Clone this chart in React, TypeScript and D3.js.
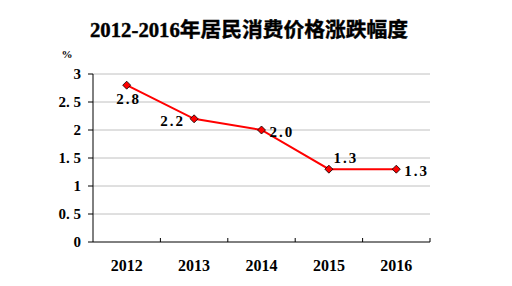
import React from "react";
import * as d3 from "d3";

const title = "2012-2016年居民消费价格涨跌幅度";
const years = ["2012", "2013", "2014", "2015", "2016"];
const values = [2.8, 2.2, 2.0, 1.3, 1.3];
const yTicks = [0, 0.5, 1, 1.5, 2, 2.5, 3];
const labelText = ["2.8", "2.2", "2.0", "1.3", "1.3"];
// label placement relative to point: dx, dy
const labelPos: [number, number, string][] = [
  [2, 19, "middle"],
  [-9, 7, "end"],
  [8, 7, "start"],
  [17, -6, "middle"],
  [8, 7, "start"],
];

export default function App() {
  const W = 512, H = 286;
  const left = 93, right = 430, top = 74, bottom = 242;
  const x = d3.scaleBand<string>().domain(years).range([left, right]);
  const y = d3.scaleLinear().domain([0, 3]).range([bottom, top]);
  const line = d3
    .line<number>()
    .x((_, i) => (x(years[i]) as number) + x.bandwidth() / 2)
    .y((d) => y(d));
  const serif = "'Liberation Serif', 'DejaVu Serif', serif";
  const boundaries = years.map((yr) => (x(yr) as number) + x.bandwidth());
  return (
    <svg width={W} height={H} style={{ position: "absolute", left: 0, top: 0, background: "#fff" }}>
      <text
        x={249}
        y={37}
        textAnchor="middle"
        fontFamily="'Liberation Serif', 'Noto Sans CJK SC', serif"
        fontWeight="bold"
        fontSize={20}
        textLength={318}
        lengthAdjust="spacingAndGlyphs"
        stroke="#000"
        strokeWidth={0.4}
      >
        {title}
      </text>
      <text x={67} y={58} textAnchor="middle" fontFamily={serif} fontWeight="bold" fontSize={11}>
        %
      </text>
      {yTicks.map((t) =>
        t === 0 ? null : (
          <line key={"g" + t} x1={left} x2={right} y1={y(t)} y2={y(t)} stroke="#c0c0c0" strokeWidth={1} />
        )
      )}
      {yTicks.map((t) => (
        <g key={"t" + t}>
          <line x1={left - 5} x2={left} y1={y(t)} y2={y(t)} stroke="#000" />
          <text
            x={81}
            y={y(t) + 5}
            textAnchor="end"
            fontFamily={serif}
            fontWeight="bold"
            fontSize={15}
          >
            {String(t).replace(".", ". ")}
          </text>
        </g>
      ))}
      <line x1={left} x2={left} y1={top} y2={bottom} stroke="#000" />
      <line x1={left} x2={right} y1={bottom} y2={bottom} stroke="#000" />
      {boundaries.map((b, i) => (
        <line key={"b" + i} x1={b} x2={b} y1={bottom} y2={bottom - 4} stroke="#000" />
      ))}
      {years.map((yr) => (
        <text
          key={yr}
          x={(x(yr) as number) + x.bandwidth() / 2}
          y={271}
          textAnchor="middle"
          fontFamily={serif}
          fontWeight="bold"
          fontSize={16}
        >
          {yr}
        </text>
      ))}
      <path d={line(values) || ""} fill="none" stroke="#ff0000" strokeWidth={2} />
      {values.map((v, i) => {
        const cx = (x(years[i]) as number) + x.bandwidth() / 2;
        const cy = y(v);
        const s = 4;
        return (
          <path
            key={"m" + i}
            d={`M${cx},${cy - s}L${cx + s},${cy}L${cx},${cy + s}L${cx - s},${cy}Z`}
            fill="#ff0000"
            stroke="#000"
            strokeWidth={0.8}
          />
        );
      })}
      {values.map((v, i) => {
        const cx = (x(years[i]) as number) + x.bandwidth() / 2;
        const cy = y(v);
        const [dx, dy, anchor] = labelPos[i];
        return (
          <text
            key={"l" + i}
            x={cx + dx}
            y={cy + dy}
            textAnchor={anchor as any}
            fontFamily={serif}
            fontWeight="bold"
            fontSize={15}
            letterSpacing={2}
          >
            {labelText[i]}
          </text>
        );
      })}
    </svg>
  );
}
